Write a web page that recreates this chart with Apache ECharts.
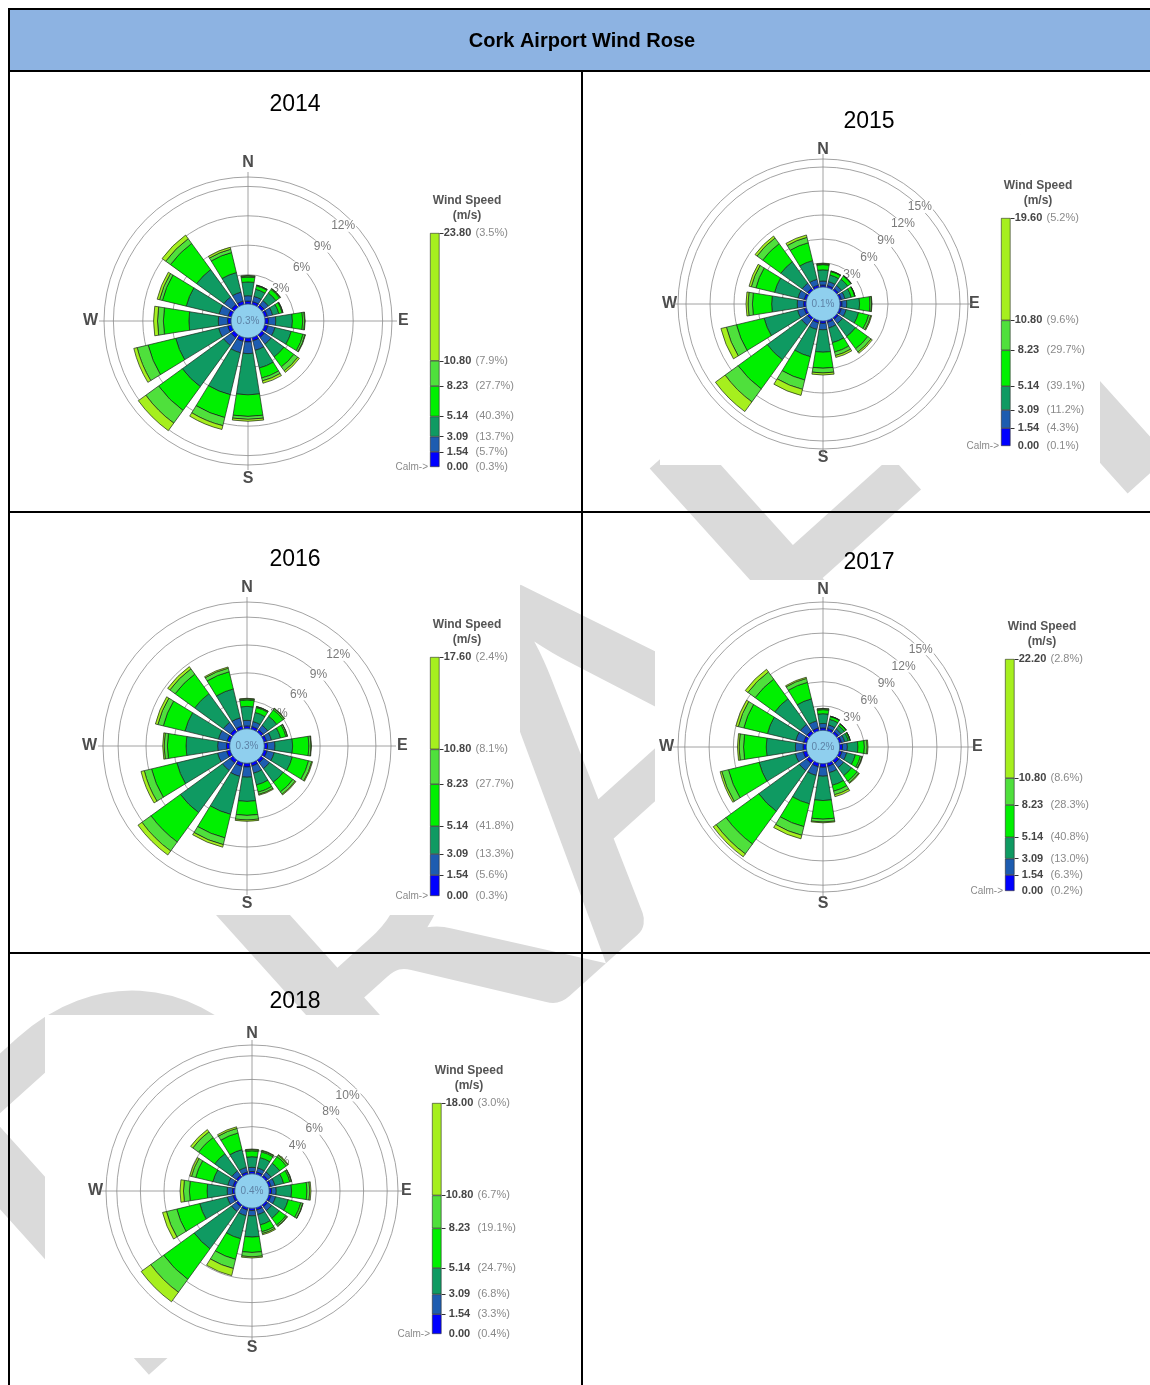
<!DOCTYPE html>
<html>
<head>
<meta charset="utf-8">
<title>Cork Airport Wind Rose</title>
<script src="https://cdn.jsdelivr.net/npm/echarts@6/dist/echarts.min.js"></script>
<style>
  html, body { margin: 0; padding: 0; background: #ffffff; }
  #chart { width: 1150px; height: 1385px; }
</style>
</head>
<body>
<div id="chart"></div>
<script>
// ---- data -------------------------------------------------------------
const directions = ['N', 'NNE', 'NE', 'ENE', 'E', 'ESE', 'SE', 'SSE', 'S', 'SSW', 'SW', 'WSW', 'W', 'WNW', 'NW', 'NNW'];
const compassLabels = ['N', 'E', 'S', 'W'];
const years = ['2014', '2015', '2016', '2017', '2018'];
// class boundaries in m/s (upper limit of the top class differs by year)
const speedBreaks = [0, 1.54, 3.09, 5.14, 8.23, 10.80];
const maxSpeed = [23.80, 19.60, 17.60, 22.20, 18.00];
const calmPct = [0.3, 0.1, 0.3, 0.2, 0.4];
// class frequency (%) shown in the legend, lowest class first
const classPct2014 = [5.7, 13.7, 40.3, 27.7, 7.9, 3.5];
const classPct2015 = [4.3, 11.2, 39.1, 29.7, 9.6, 5.2];
const classPct2016 = [5.6, 13.3, 41.8, 27.7, 8.1, 2.4];
const classPct2017 = [6.3, 13.0, 40.8, 28.3, 8.6, 2.8];
const classPct2018 = [3.3, 6.8, 24.7, 19.1, 6.7, 3.0];
// ring tick labels (%)
const ringTicks2014 = [3, 6, 9, 12];
const ringTicks2015 = [3, 6, 9, 12, 15];
const ringTicks2016 = [3, 6, 9, 12];
const ringTicks2017 = [3, 6, 9, 12, 15];
const ringTicks2018 = [2, 4, 6, 8, 10];

// frequency (%) per direction (N clockwise to NNW), one row per speed class
const freq2014 = [
  [0.30,0.30,0.30,0.30,0.35,0.35,0.35,0.35,0.40,0.40,0.40,0.40,0.35,0.35,0.35,0.35],
  [0.55,0.55,0.55,0.55,0.75,0.75,0.85,1.00,1.20,1.20,0.95,0.95,0.95,0.95,0.95,0.95],
  [1.40,0.75,0.95,0.65,1.70,1.70,1.60,1.85,4.20,4.40,5.20,4.50,3.00,3.45,3.45,2.05],
  [0.50,0.35,0.45,0.35,1.05,1.25,1.25,1.05,2.20,2.40,3.00,2.90,2.60,2.50,3.30,2.10],
  [0.12,0.08,0.10,0.08,0.20,0.20,0.50,0.30,0.30,0.85,1.60,1.15,0.60,0.30,0.60,0.35],
  [0.05,0.00,0.02,0.00,0.05,0.05,0.20,0.25,0.20,0.40,0.95,0.35,0.40,0.25,0.45,0.20]
];
const freq2015 = [
  [0.25,0.25,0.25,0.25,0.25,0.25,0.25,0.25,0.30,0.30,0.30,0.30,0.30,0.30,0.30,0.30],
  [0.50,0.50,0.50,0.45,0.60,0.60,0.65,0.70,0.80,0.85,0.90,0.85,0.80,0.80,0.80,0.75],
  [1.40,0.85,0.95,0.80,1.60,1.60,2.00,1.90,2.80,3.50,5.30,4.30,3.20,3.00,3.30,2.40],
  [0.65,0.45,0.50,0.45,1.30,1.30,1.90,1.20,2.00,3.00,4.50,3.55,2.40,2.40,2.80,2.30],
  [0.10,0.05,0.05,0.05,0.20,0.28,0.50,0.45,0.60,1.20,2.00,1.30,0.55,0.60,0.88,0.70],
  [0.06,0.03,0.00,0.00,0.05,0.10,0.20,0.25,0.25,0.78,1.50,0.70,0.25,0.28,0.30,0.30]
];
const freq2016 = [
  [0.30,0.30,0.30,0.30,0.35,0.35,0.35,0.35,0.40,0.40,0.40,0.40,0.35,0.35,0.35,0.35],
  [0.60,0.55,0.60,0.55,0.80,0.80,0.80,0.80,1.10,1.10,1.00,1.00,0.95,0.95,0.95,0.90],
  [1.50,1.00,1.20,1.00,1.90,2.00,1.80,1.30,2.60,4.20,5.60,4.50,3.40,3.70,3.80,3.20],
  [0.70,0.55,0.85,0.60,1.75,1.80,1.30,0.80,1.50,2.60,3.90,2.80,2.00,2.40,2.60,1.90],
  [0.12,0.10,0.16,0.15,0.22,0.35,0.30,0.24,0.50,0.75,1.20,0.80,0.35,0.60,0.70,0.40],
  [0.05,0.02,0.05,0.03,0.05,0.09,0.10,0.10,0.14,0.28,0.53,0.36,0.15,0.27,0.29,0.13]
];
const freq2017 = [
  [0.30,0.30,0.30,0.30,0.35,0.35,0.40,0.40,0.45,0.45,0.45,0.45,0.40,0.40,0.40,0.35],
  [0.55,0.45,0.40,0.40,0.60,0.60,0.70,0.80,1.10,1.10,1.10,1.00,0.95,1.00,1.00,0.90],
  [1.20,0.70,0.50,0.45,1.30,1.10,1.20,1.60,3.00,3.60,6.20,4.60,3.60,3.60,3.90,2.80],
  [0.50,0.35,0.25,0.20,0.80,0.65,0.85,0.75,2.30,2.90,5.00,3.90,2.80,3.00,3.00,2.10],
  [0.12,0.05,0.05,0.05,0.35,0.20,0.25,0.45,0.35,1.10,1.50,0.85,0.55,0.70,1.10,0.50],
  [0.03,0.00,0.00,0.00,0.10,0.05,0.10,0.25,0.10,0.45,0.45,0.20,0.20,0.30,0.40,0.15]
];
const freq2018 = [
  [0.20,0.20,0.20,0.20,0.20,0.20,0.20,0.20,0.20,0.20,0.20,0.20,0.20,0.20,0.20,0.20],
  [0.35,0.35,0.35,0.35,0.40,0.40,0.40,0.40,0.45,0.50,0.50,0.50,0.45,0.45,0.45,0.40],
  [0.90,0.90,0.90,0.75,1.30,1.10,0.80,0.90,1.80,2.00,3.90,2.40,1.70,1.30,1.80,1.55],
  [0.50,0.50,0.70,0.55,1.30,1.10,0.70,0.60,1.30,1.80,3.20,2.00,1.50,1.50,1.70,1.45],
  [0.10,0.10,0.15,0.12,0.24,0.17,0.12,0.16,0.37,0.80,1.35,0.90,0.50,0.37,0.60,0.40],
  [0.05,0.05,0.06,0.03,0.10,0.03,0.05,0.10,0.10,0.62,1.00,0.34,0.29,0.15,0.23,0.14]
];

const freqByYear = [freq2014, freq2015, freq2016, freq2017, freq2018];
const classPctByYear = [classPct2014, classPct2015, classPct2016, classPct2017, classPct2018];
const ringTicksByYear = [ringTicks2014, ringTicks2015, ringTicks2016, ringTicks2017, ringTicks2018];

// ---- styling / layout ---------------------------------------------------
const classColors = ['#0000ff', '#1d5cb0', '#0f9a62', '#00f000', '#4fe03c', '#a6ef1e'];
const FONT = 'Arial, "Liberation Sans", sans-serif';
const GRID_COLOR = '#8c8c8c';

// rose centre, calm-circle radius, pixels per percent, outer frame radius,
// compass label distance, year title position, legend bar (x, top, bottom),
// white plot background (x, y, w, h)
const layout = [
  { cx: 248, cy: 321, r0: 17, k: 9.8, rOut: 144, dirDist: 157, title: [295, 105], bar: [430, 233, 467], bg: [60, 130, 465, 370] },
  { cx: 823, cy: 304, r0: 17, k: 8.0, rOut: 145, dirDist: 153, title: [869, 122], bar: [1001, 218, 446], bg: [660, 135, 440, 330] },
  { cx: 247, cy: 746, r0: 17.3, k: 9.3, rOut: 144, dirDist: 157, title: [295, 560], bar: [430, 657, 896], bg: [55, 575, 465, 340] },
  { cx: 823, cy: 747, r0: 16.7, k: 8.1, rOut: 145, dirDist: 156, title: [869, 563], bar: [1005, 659, 891], bg: [655, 580, 445, 340] },
  { cx: 252, cy: 1191, r0: 17.2, k: 11.8, rOut: 146, dirDist: 156, title: [295, 1002], bar: [432, 1103, 1334], bg: [45, 1015, 472, 343] }
];
const BAR_W = 9.5;

// ---- option building --------------------------------------------------
const polar = [], angleAxis = [], radiusAxis = [];
const grid = [], xAxis = [], yAxis = [];
const series = [];
const graphic = [];

// page watermark, behind the plots
graphic.push({
  type: 'text', x: 584, y: 779, rotation: 42 * Math.PI / 180, z: -3, silent: true,
  style: { text: 'DRAFT', font: '600 470px Lato, "Open Sans", sans-serif', fill: '#dadada', textAlign: 'center', textVerticalAlign: 'middle' }
});

// table frame and header
graphic.push(
  { type: 'rect', shape: { x: 10, y: 10, width: 1145, height: 61 }, style: { fill: '#8db3e2' }, z: 0 },
  { type: 'text', x: 582, y: 41, style: { text: 'Cork Airport Wind Rose', font: 'bold 20px ' + FONT, fill: '#000', textAlign: 'center', textVerticalAlign: 'middle' } },
  { type: 'line', shape: { x1: 8, y1: 9, x2: 1155, y2: 9 }, style: { stroke: '#000', lineWidth: 2 } },
  { type: 'line', shape: { x1: 9, y1: 8, x2: 9, y2: 1390 }, style: { stroke: '#000', lineWidth: 2 } },
  { type: 'line', shape: { x1: 8, y1: 71, x2: 1155, y2: 71 }, style: { stroke: '#000', lineWidth: 2 } },
  { type: 'line', shape: { x1: 8, y1: 512, x2: 1155, y2: 512 }, style: { stroke: '#000', lineWidth: 2 } },
  { type: 'line', shape: { x1: 8, y1: 953, x2: 1155, y2: 953 }, style: { stroke: '#000', lineWidth: 2 } },
  { type: 'line', shape: { x1: 582, y1: 71, x2: 582, y2: 1390 }, style: { stroke: '#000', lineWidth: 2 } }
);

years.forEach((year, i) => {
  const L = layout[i];
  const ticks = ringTicksByYear[i];
  const step = ticks[1] - ticks[0];
  const rMax = (L.rOut - L.r0) / L.k;        // radial axis maximum in %
  const freq = freqByYear[i];
  const pct = classPctByYear[i];

  // white plot background
  graphic.push({ type: 'rect', z: -2, silent: true, shape: { x: L.bg[0], y: L.bg[1], width: L.bg[2], height: L.bg[3] }, style: { fill: '#ffffff' } });

  // 1) data polar: stacked speed classes
  polar.push({ center: [L.cx, L.cy], radius: [L.r0, L.rOut] });
  angleAxis.push({
    polarIndex: 3 * i, type: 'category', data: directions, startAngle: 90 + 360 / 32, clockwise: true,
    boundaryGap: true, axisLine: { show: false }, axisTick: { show: false },
    axisLabel: { show: false }, splitLine: { show: false }
  });
  radiusAxis.push({
    polarIndex: 3 * i, type: 'value', min: 0, max: rMax, interval: step,
    axisLine: { show: false }, axisTick: { show: false }, axisLabel: { show: false },
    splitLine: { show: true, lineStyle: { color: GRID_COLOR, width: 0.8 } }
  });

  // 2) compass cross and N/E/S/W labels
  polar.push({ center: [L.cx, L.cy], radius: [0, L.rOut + 5] });
  angleAxis.push({
    polarIndex: 3 * i + 1, type: 'category', data: compassLabels, startAngle: 90, clockwise: true,
    boundaryGap: false, axisLine: { show: false }, axisTick: { show: false },
    splitLine: { show: true, lineStyle: { color: GRID_COLOR, width: 0.8 } },
    axisLabel: { show: true, margin: L.dirDist - L.rOut - 12, fontFamily: FONT, fontSize: 16, fontWeight: 'bold', color: '#4d4d4d' }
  });
  radiusAxis.push({ polarIndex: 3 * i + 1, type: 'value', show: false });

  // 3) ring percentage labels along the NE diagonal
  polar.push({ center: [L.cx, L.cy], radius: [L.r0, L.rOut] });
  angleAxis.push({ polarIndex: 3 * i + 2, type: 'value', min: 0, max: 360, startAngle: 45, show: false });
  radiusAxis.push({
    polarIndex: 3 * i + 2, type: 'value', min: 0, max: rMax, interval: step, z: 1,
    axisLine: { show: false }, axisTick: { show: false }, splitLine: { show: false },
    axisLabel: {
      show: true, showMinLabel: false, showMaxLabel: false, margin: 0,
      align: 'center', verticalAlign: 'middle',
      formatter: v => (ticks.indexOf(v) >= 0 ? v + '%' : ''),
      fontFamily: FONT, fontSize: 12, color: '#7a7a7a',
      backgroundColor: '#ffffff', padding: [0, 1]
    }
  });

  // speed-class bars
  freq.forEach((row, j) => {
    series.push({
      type: 'bar', name: year + ' class ' + (j + 1), coordinateSystem: 'polar', polarIndex: 3 * i,
      stack: 'rose' + year, data: row, barCategoryGap: '20%', silent: true,
      itemStyle: { color: classColors[j], borderColor: '#1b261b', borderWidth: 0.7 }
    });
  });

  // calm circle
  series.push({
    type: 'pie', center: [L.cx, L.cy], radius: [0, L.r0], silent: true, z: 3,
    label: { show: true, position: 'center', formatter: p => p.value.toFixed(1) + '%', fontFamily: FONT, fontSize: 10, color: '#5d82a6' },
    labelLine: { show: false }, emphasis: { disabled: true },
    itemStyle: { color: '#8fcfee', borderColor: '#2c4d8f', borderWidth: 0.8 },
    data: [{ name: 'Calm', value: calmPct[i] }]
  });

  // legend colour bar drawn on its own speed axis
  const [bx, btop, bbot] = L.bar;
  const breaks = speedBreaks.concat([maxSpeed[i]]);
  grid.push({ left: bx, top: btop, width: BAR_W, height: bbot - btop });
  xAxis.push({ gridIndex: i, type: 'category', data: [''], show: false, boundaryGap: true });
  yAxis.push({
    gridIndex: i, type: 'value', position: 'right', min: 0, max: maxSpeed[i],
    axisLine: { show: false }, splitLine: { show: false },
    axisTick: { show: true, customValues: breaks.slice(1), length: 4, lineStyle: { color: '#333', width: 1 } },
    axisLabel: {
      show: true, customValues: breaks, margin: 4,
      formatter: v => {
        let idx = breaks.findIndex(b => Math.abs(b - v) < 1e-6);
        const p = idx <= 0 ? calmPct[i] : pct[idx - 1];
        return '{n|' + v.toFixed(2) + '}{p|(' + p.toFixed(1) + '%)}';
      },
      rich: {
        n: { fontFamily: FONT, fontSize: 11, fontWeight: 'bold', color: '#454545', width: 28, align: 'right' },
        p: { fontFamily: FONT, fontSize: 11, color: '#8a8a8a', padding: [0, 0, 0, 4] }
      }
    }
  });
  yAxis.push({
    gridIndex: i, type: 'value', position: 'left', min: 0, max: maxSpeed[i],
    axisLine: { show: false }, splitLine: { show: false }, axisTick: { show: false },
    axisLabel: { show: true, customValues: [0], margin: 2, formatter: () => 'Calm->', fontFamily: FONT, fontSize: 10, color: '#8a8a8a' }
  });
  classColors.forEach((c, j) => {
    series.push({
      type: 'bar', name: year + ' legend ' + (j + 1), xAxisIndex: i, yAxisIndex: 2 * i,
      stack: 'legend' + year, barWidth: '100%', silent: true,
      data: [+(breaks[j + 1] - breaks[j]).toFixed(2)],
      itemStyle: { color: c, borderColor: '#2a2a2a', borderWidth: 0.6 }
    });
  });

  // titles
  graphic.push(
    { type: 'text', x: L.title[0], y: L.title[1], style: { text: year, font: '23px ' + FONT, fill: '#000', textAlign: 'center', textVerticalAlign: 'middle' } },
    { type: 'text', x: bx + 37, y: btop - 32, style: { text: 'Wind Speed', font: 'bold 12px ' + FONT, fill: '#555', textAlign: 'center', textVerticalAlign: 'middle' } },
    { type: 'text', x: bx + 37, y: btop - 17, style: { text: '(m/s)', font: 'bold 12px ' + FONT, fill: '#555', textAlign: 'center', textVerticalAlign: 'middle' } }
  );
});

const chart = echarts.init(document.getElementById('chart'), null, { renderer: 'canvas' });
chart.setOption({
  backgroundColor: '#ffffff',
  animation: false,
  polar, angleAxis, radiusAxis,
  grid, xAxis, yAxis,
  series,
  graphic
});
</script>
</body>
</html>
